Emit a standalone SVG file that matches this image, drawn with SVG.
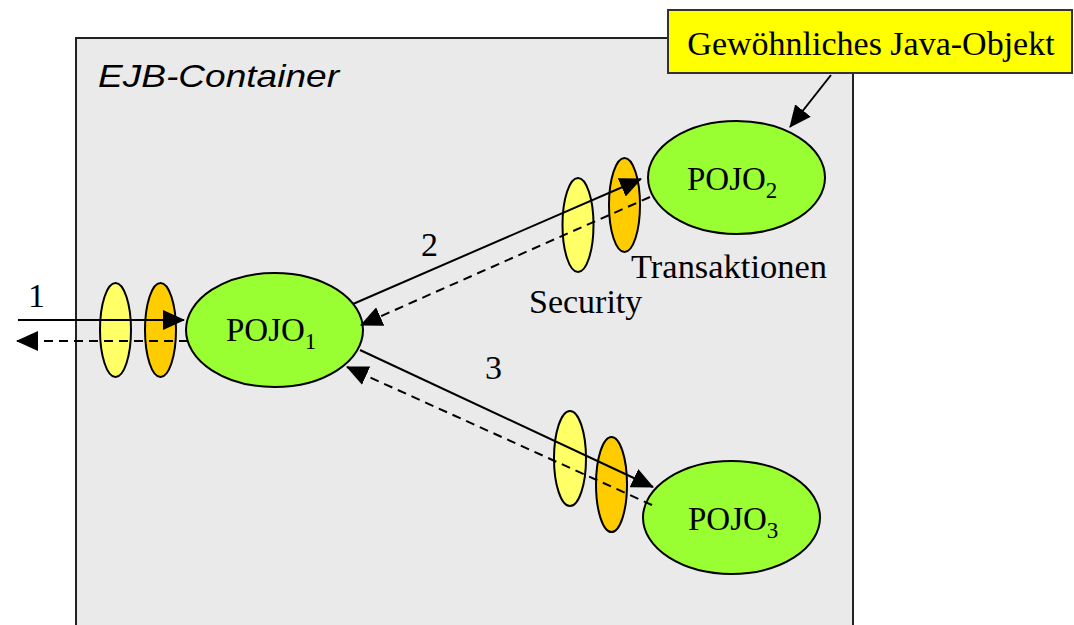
<svg xmlns="http://www.w3.org/2000/svg" width="1074" height="625" viewBox="0 0 1074 625">
<defs>
<style>
.serif{font-family:"Liberation Serif","Times New Roman",serif;fill:#000}
.pojo{fill:#99ff33;stroke:#000;stroke-width:2}
.sec{fill:#ffff66;stroke:#000;stroke-width:2}
.tx{fill:#ffcc00;stroke:#000;stroke-width:2}
.line{stroke:#000;stroke-width:2;fill:none}
.dash{stroke-dasharray:9 6}
</style>
<marker id="ah" markerUnits="userSpaceOnUse" markerWidth="22" markerHeight="20" refX="21" refY="10" orient="auto">
<path d="M0,0 L22,10 L0,20 z" fill="#000"/>
</marker>
</defs>
<rect width="1074" height="625" fill="#fff"/>
<g id="container">
<rect x="76" y="38" width="777" height="600" fill="#eaeaea" stroke="#222" stroke-width="2"/>
<text x="98" y="87" font-family="'Liberation Sans',Arial,sans-serif" font-style="italic" font-size="32" textLength="241" lengthAdjust="spacingAndGlyphs">EJB-Container</text>
</g>
<g id="interceptors">
<ellipse class="sec" cx="115.5" cy="330" rx="15.5" ry="47"/>
<ellipse class="tx" cx="160.5" cy="330" rx="15.5" ry="47"/>
<ellipse class="sec" cx="578" cy="225" rx="15.5" ry="47"/>
<ellipse class="tx" cx="624.5" cy="205" rx="15.5" ry="47"/>
<ellipse class="sec" cx="570" cy="458.5" rx="16" ry="47.5"/>
<ellipse class="tx" cx="611.5" cy="484.5" rx="15.5" ry="47.5"/>
</g>
<g id="pojo1">
<ellipse class="pojo" cx="274.5" cy="330" rx="88.5" ry="57"/>
<text class="serif" x="226" y="341" font-size="33">POJO<tspan font-size="23" dy="8">1</tspan></text>
</g>
<g id="pojo2">
<ellipse class="pojo" cx="736.5" cy="177.5" rx="88.5" ry="56.5"/>
<text class="serif" x="687" y="190" font-size="33">POJO<tspan font-size="23" dy="8">2</tspan></text>
</g>
<g id="pojo3">
<ellipse class="pojo" cx="731.5" cy="517.5" rx="88.5" ry="56.5"/>
<text class="serif" x="688" y="530" font-size="33">POJO<tspan font-size="23" dy="8">3</tspan></text>
</g>
<g id="note">
<rect x="668" y="10" width="404" height="63" fill="#ffff00" stroke="#333" stroke-width="2"/>
<text class="serif" x="871" y="55" font-size="34" text-anchor="middle">Gewöhnliches Java-Objekt</text>
</g>
<g id="labels">
<text class="serif" x="631" y="278" font-size="34" textLength="196" lengthAdjust="spacingAndGlyphs">Transaktionen</text>
<text class="serif" x="529" y="313" font-size="34">Security</text>
<text class="serif" x="28" y="307" font-size="34">1</text>
<text class="serif" x="421" y="256" font-size="34">2</text>
<text class="serif" x="485" y="379" font-size="34">3</text>
</g>
<g id="connectors">
<line class="line" x1="18" y1="320" x2="184" y2="320" marker-end="url(#ah)"/>
<line class="line dash" x1="188" y1="341" x2="17" y2="341" marker-end="url(#ah)"/>
<line class="line" x1="353" y1="304" x2="641" y2="179" marker-end="url(#ah)"/>
<line class="line dash" x1="650" y1="197" x2="361" y2="325" marker-end="url(#ah)"/>
<line class="line" x1="360" y1="350" x2="653" y2="487" marker-end="url(#ah)"/>
<line class="line dash" x1="652" y1="505" x2="347" y2="367" marker-end="url(#ah)"/>
<line class="line" x1="831" y1="75" x2="790" y2="127" marker-end="url(#ah)"/>
</g>
</svg>
